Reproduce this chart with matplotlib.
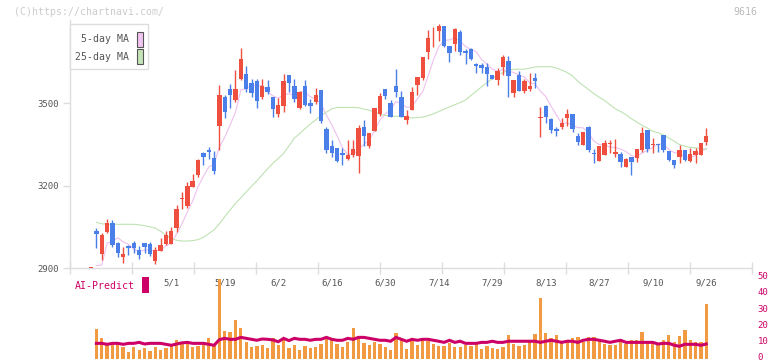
import numpy as np
import pandas as pd
import matplotlib
matplotlib.use('Agg')
import matplotlib.pyplot as plt
import matplotlib.transforms as mtransforms
from matplotlib.patches import Rectangle

# daily candles (open, high, low, close), first candle is index 0
opens = [2900, 3036, 2953, 3031, 3065, 2992, 2942, 2982, 2992, 2967, 2992, 2988, 2928, 2964, 2988, 2988,
         3048, 3151, 3127, 3196, 3239, 3319, 3330, 3301, 3419, 3522, 3551, 3512, 3588, 3607, 3574, 3581,
         3522, 3561, 3523, 3462, 3490, 3603, 3563, 3483, 3563, 3500, 3506, 3548, 3407, 3343, 3339, 3318,
         3299, 3313, 3308, 3414, 3345, 3400, 3462, 3552, 3501, 3563, 3523, 3440, 3477, 3567, 3593, 3688,
         3743, 3764, 3781, 3708, 3716, 3758, 3690, 3697, 3644, 3639, 3632, 3603, 3585, 3632, 3654, 3539,
         3603, 3545, 3552, 3592, 3446, 3490, 3443, 3408, 3414, 3448, 3461, 3381, 3350, 3414, 3320, 3292,
         3313, 3351, 3317, 3317, 3270, 3306, 3302, 3332, 3403, 3347, 3353, 3385, 3328, 3295, 3306, 3332,
         3292, 3313, 3313, 3361]
highs = [2900, 3047, 3027, 3079, 3076, 2994, 2979, 2983, 2999, 2981, 2992, 2996, 2979, 3011, 3036, 3050,
         3130, 3178, 3214, 3243, 3299, 3323, 3342, 3328, 3567, 3530, 3570, 3621, 3702, 3636, 3588, 3588,
         3588, 3585, 3523, 3518, 3607, 3603, 3588, 3546, 3585, 3517, 3555, 3548, 3414, 3365, 3339, 3339,
         3367, 3367, 3421, 3439, 3392, 3483, 3536, 3552, 3512, 3625, 3545, 3476, 3559, 3596, 3668, 3767,
         3779, 3788, 3781, 3708, 3774, 3767, 3697, 3701, 3648, 3648, 3648, 3603, 3627, 3676, 3672, 3585,
         3618, 3588, 3610, 3610, 3485, 3494, 3447, 3415, 3447, 3479, 3461, 3393, 3396, 3418, 3334, 3346,
         3367, 3367, 3370, 3323, 3302, 3306, 3334, 3414, 3403, 3374, 3353, 3385, 3328, 3295, 3350, 3332,
         3339, 3339, 3356, 3410]
lows = [2900, 2975, 2930, 3027, 2979, 2942, 2921, 2950, 2957, 2935, 2955, 2946, 2916, 2963, 2985, 2987,
        3033, 3116, 3121, 3195, 3233, 3276, 3298, 3244, 3330, 3448, 3484, 3506, 3585, 3542, 3524, 3482,
        3516, 3534, 3452, 3452, 3470, 3542, 3506, 3478, 3490, 3466, 3498, 3430, 3321, 3304, 3285, 3277,
        3295, 3306, 3245, 3345, 3339, 3400, 3453, 3516, 3452, 3524, 3452, 3425, 3477, 3530, 3584, 3661,
        3706, 3728, 3706, 3651, 3692, 3677, 3643, 3658, 3609, 3612, 3563, 3587, 3567, 3603, 3524, 3524,
        3545, 3539, 3545, 3556, 3379, 3430, 3393, 3382, 3408, 3418, 3397, 3350, 3350, 3324, 3284, 3292,
        3313, 3318, 3306, 3270, 3270, 3241, 3288, 3324, 3324, 3321, 3324, 3324, 3292, 3266, 3284, 3292,
        3288, 3284, 3313, 3350]
closes = [2900, 3026, 3021, 3065, 2986, 2957, 2953, 2975, 2975, 2950, 2979, 2953, 2967, 2985, 3021, 3036,
          3116, 3153, 3199, 3219, 3294, 3305, 3323, 3255, 3530, 3470, 3530, 3552, 3661, 3552, 3539, 3510,
          3563, 3542, 3481, 3494, 3581, 3575, 3517, 3540, 3494, 3492, 3530, 3437, 3332, 3318, 3292, 3313,
          3313, 3334, 3410, 3382, 3392, 3483, 3527, 3527, 3452, 3542, 3452, 3453, 3541, 3596, 3668, 3737,
          3745, 3781, 3710, 3682, 3770, 3687, 3682, 3661, 3637, 3630, 3607, 3590, 3618, 3668, 3600, 3585,
          3545, 3581, 3563, 3581, 3449, 3450, 3404, 3401, 3428, 3461, 3408, 3361, 3396, 3332, 3315, 3346,
          3356, 3356, 3323, 3288, 3299, 3285, 3334, 3392, 3335, 3349, 3350, 3332, 3295, 3277, 3332, 3295,
          3316, 3328, 3356, 3381]

# first values of the 5-day MA (earlier history not on the chart)
ma5_head = [np.nan, 2910, 2912, 2990]
ma25 = [np.nan, 3067, 3062, 3060, 3060, 3060, 3060, 3060, 3060, 3058, 3055, 3051, 3046, 3035, 3020, 3008,
        3002, 2999, 2999, 3001, 3004, 3013, 3026, 3040, 3062, 3088, 3112, 3136, 3156, 3178, 3198, 3218,
        3240, 3262, 3282, 3300, 3318, 3345, 3373, 3390, 3408, 3425, 3440, 3455, 3468, 3480, 3485, 3485,
        3485, 3485, 3484, 3479, 3475, 3467, 3461, 3456, 3454, 3453, 3452, 3450, 3447, 3448, 3450, 3455,
        3462, 3470, 3479, 3487, 3495, 3503, 3512, 3528, 3544, 3560, 3575, 3590, 3603, 3612, 3620, 3624,
        3624, 3624, 3628, 3632, 3633, 3633, 3633, 3628, 3621, 3612, 3600, 3580, 3565, 3550, 3535, 3522,
        3510, 3495, 3480, 3470, 3458, 3444, 3432, 3420, 3410, 3398, 3393, 3385, 3374, 3362, 3350, 3344,
        3340, 3338, 3335, 3333]

volume = [np.nan, 18.6, 13.0, 9.7, 10.1, 9.7, 7.4, 4.3, 7.4, 5.6, 6.8, 5.0, 7.4, 5.6, 6.8, 8.7,
          11.8, 10.1, 10.1, 7.4, 8.1, 9.7, 13.0, 8.1, 49.5, 17.4, 16.7, 24.2, 19.2, 10.5, 7.4, 8.1,
          8.7, 6.8, 13.0, 8.7, 12.4, 6.8, 8.7, 5.6, 8.1, 6.8, 7.4, 9.3, 13.0, 11.8, 9.3, 7.4,
          10.5, 19.2, 14.3, 9.9, 8.7, 10.5, 9.3, 7.4, 5.6, 16.1, 11.8, 6.2, 11.2, 8.7, 11.8, 11.2,
          9.3, 8.1, 8.1, 9.9, 7.4, 7.4, 8.7, 8.1, 9.9, 6.2, 8.1, 6.8, 6.2, 7.4, 14.9, 9.3,
          8.1, 8.7, 10.5, 15.5, 37.8, 16.1, 13.0, 14.9, 10.5, 11.2, 13.0, 13.6, 10.5, 13.6, 13.6, 11.8,
          9.3, 8.7, 8.7, 11.8, 9.3, 11.8, 11.8, 16.7, 10.5, 10.5, 8.7, 11.8, 14.9, 10.5, 14.3, 18.0,
          11.8, 10.5, 10.5, 34.1]
ai_predict = [np.nan, 9.7, 9.7, 9.1, 9.7, 9.7, 9.1, 9.7, 9.7, 10.3, 9.3, 9.7, 9.7, 9.7, 9.1, 8.5,
              9.3, 10.0, 10.3, 9.7, 9.7, 9.7, 9.1, 8.5, 12.0, 12.8, 12.2, 12.2, 13.4, 12.8, 12.2, 11.6,
              12.4, 12.2, 11.8, 10.7, 12.8, 11.4, 12.8, 12.2, 12.2, 11.6, 12.2, 12.2, 13.4, 12.2, 11.6, 11.6,
              12.8, 12.2, 13.4, 13.4, 12.8, 12.2, 11.6, 11.6, 11.0, 13.4, 12.2, 11.0, 12.2, 11.6, 12.2, 12.2,
              11.6, 11.0, 10.3, 11.6, 10.3, 11.0, 9.7, 9.7, 9.7, 10.3, 10.3, 11.0, 10.3, 10.3, 11.0, 11.0,
              11.0, 11.0, 11.0, 11.0, 10.3, 11.0, 11.6, 11.0, 10.3, 11.0, 11.0, 10.3, 11.6, 12.2, 12.2, 11.6,
              11.0, 10.3, 11.0, 11.6, 10.3, 10.3, 10.3, 10.3, 10.3, 10.3, 9.3, 9.7, 9.7, 8.5, 7.9, 9.1,
              9.1, 9.1, 8.5, 9.3]

date_labels = ['5/1', '5/19', '6/2', '6/16', '6/30', '7/14', '7/29', '8/13', '8/27', '9/10', '9/26']
date_pos = list(range(15, 116, 10))

W, H = 772, 361
RED = '#ef4f3f'
BLUE = '#4a7fea'
GRID = '#dddddd'
TXT = '#555555'
MAG = '#cc0066'
MONO = 'DejaVu Sans Mono'

fig = plt.figure(figsize=(W / 100, H / 100), dpi=100)
ax = fig.add_axes([70 / W, 1 - 268.3 / H, 682 / W, 248.3 / H])

x = np.arange(len(closes))
o = np.array(opens, float)
c = np.array(closes, float)
hi = np.array(highs, float)
lo = np.array(lows, float)
up = c >= o
colors = np.where(up, RED, BLUE)

ax.vlines(x, lo, hi, colors=colors, lw=1.0, zorder=3)
body_lo = np.minimum(o, c)
body_h = np.maximum(np.abs(c - o), 3.6)
ax.bar(x, body_h, bottom=body_lo, width=0.82, color=colors, lw=0, zorder=4)

ma5 = pd.Series(c).rolling(5).mean().values
ma5[:4] = ma5_head
ax.plot(x, ma5, color='#eec0ee', lw=0.8, zorder=2)
ax.plot(x, ma25, color='#bfe2b3', lw=0.8, zorder=2)

xlim = (-3.93, 123.55)
ax.set_xlim(*xlim)
ax.set_ylim(2900, 3803)
ax.set_xticks(np.linspace(xlim[0], xlim[1], 12))
ax.set_xticklabels([])
ax.tick_params(axis='x', direction='inout', length=8, color=GRID, width=1)
ax.set_yticks([2900, 3200, 3500])
ax.set_yticklabels(['2900', '3200', '3500'], fontfamily=MONO, fontsize=6.5, color=TXT)
ax.tick_params(axis='y', direction='out', length=5, color=GRID, width=1, pad=3)
for s in ['top', 'right']:
    ax.spines[s].set_visible(False)
for s in ['left', 'bottom']:
    ax.spines[s].set_color(GRID)
    ax.spines[s].set_linewidth(1)

for lab, p in zip(date_labels, date_pos):
    ax.text(p, -0.06, lab, transform=ax.get_xaxis_transform(), ha='center', va='center',
            fontfamily=MONO, fontsize=6.5, color=TXT, clip_on=False)

# legend box
fig.patches.append(Rectangle((70 / W, 1 - 69 / H), 78 / W, 45 / H, transform=fig.transFigure,
                             facecolor='white', edgecolor=GRID, lw=1, zorder=5))
fig.text(129 / W, 1 - 39.5 / H, '5-day MA', ha='right', va='center', fontfamily=MONO,
         fontsize=7.1, color=TXT, zorder=6)
fig.text(129 / W, 1 - 56.5 / H, '25-day MA', ha='right', va='center', fontfamily=MONO,
         fontsize=7.1, color=TXT, zorder=6)
fig.patches.append(Rectangle((137 / W, 1 - 46.5 / H), 5.5 / W, 14.5 / H, transform=fig.transFigure,
                             facecolor='#f2c4f2', edgecolor='#555555', lw=0.8, zorder=6))
fig.patches.append(Rectangle((137 / W, 1 - 63.5 / H), 5.5 / W, 14.5 / H, transform=fig.transFigure,
                             facecolor='#c4e4b8', edgecolor='#555555', lw=0.8, zorder=6))

# volume / AI panel
ax2 = fig.add_axes([70 / W, 1 - 359 / H, 682 / W, 80.7 / H])
ax2.patch.set_alpha(0)
ax2.bar(x, volume, width=0.62, color='#f29a42', lw=0, zorder=2)
ax2.plot(x, ai_predict, color=MAG, lw=2.2, zorder=3, solid_joinstyle='miter')
ax2.set_xlim(*xlim)
ax2.set_ylim(0, 50)
ax2.set_xticks([])
ax2.yaxis.tick_right()
ax2.set_yticks([0, 10, 20, 30, 40, 50])
ax2.set_yticklabels(['0', '10', '20', '30', '40', '50'], fontfamily=MONO, fontsize=6.5, color=MAG)
ax2.tick_params(axis='y', length=0, pad=4)
shift = mtransforms.ScaledTranslation(0, 2.5 / 100, fig.dpi_scale_trans)
for lbl in ax2.get_yticklabels():
    lbl.set_transform(lbl.get_transform() + shift)
for s in ax2.spines.values():
    s.set_visible(False)

fig.text(75 / W, 1 - 286 / H, 'AI-Predict', ha='left', va='center', fontfamily=MONO,
         fontsize=7.1, color=MAG)
fig.patches.append(Rectangle((142 / W, 1 - 293 / H), 7 / W, 16 / H, transform=fig.transFigure,
                             facecolor=MAG, lw=0))

fig.text(14 / W, 1 - 12 / H, '(C)https://chartnavi.com/', ha='left', va='center', fontfamily=MONO,
         fontsize=7.1, color='#cccccc')
fig.text(757 / W, 1 - 12 / H, '9616', ha='right', va='center', fontfamily=MONO,
         fontsize=7.1, color='#bbbbbb')

fig.savefig('out.png', dpi=100)
